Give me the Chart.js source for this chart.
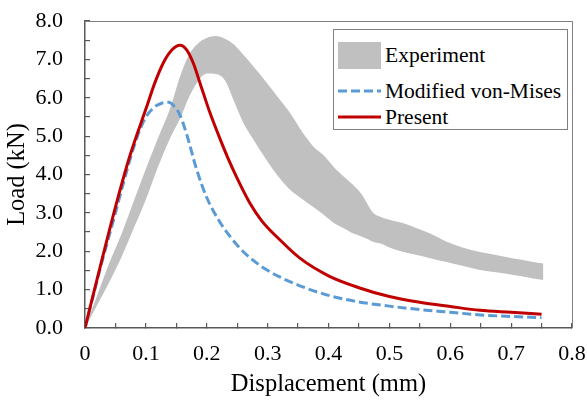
<!DOCTYPE html>
<html lang="en">
<head>
<meta charset="utf-8"/>
<title>Load - displacement</title>
<style>
  body { margin: 0; background: #fff; }
  #wrap { position: relative; width: 587px; height: 402px; }
  #legend { position: absolute; left: 333px; top: 29px; width: 235px; height: 101px; box-sizing: border-box;
            border: 1px solid #7f7f7f; background: #fff; color: #000;
            font-family: "Liberation Serif", "Times New Roman", serif; font-size: 21.5px; }
  #legend .row { position: absolute; left: 3px; height: 26px; line-height: 26px; display: flex; align-items: center; white-space: nowrap; }
  #legend .mark { width: 44px; height: 26px; display: flex; align-items: center; justify-content: center; margin-right: 4px; }
</style>
</head>
<body>
<div id="wrap">
  <canvas id="chart" width="587" height="402"></canvas>
  <div id="legend"></div>
</div>
<script src="https://cdn.jsdelivr.net/npm/chart.js"></script>
<script>
// experiment band (upper / lower edge at the same displacements)
const expX     = [0, 0.02, 0.04, 0.06, 0.08, 0.1, 0.12, 0.14, 0.156, 0.172, 0.189, 0.2, 0.215, 0.23, 0.245, 0.26, 0.275, 0.293, 0.315, 0.337, 0.355, 0.375, 0.392, 0.41, 0.425, 0.441, 0.455, 0.465, 0.474, 0.485, 0.5, 0.523, 0.545, 0.567, 0.594, 0.62, 0.649, 0.675, 0.704, 0.73, 0.753];
const expUpper = [0, 0.85, 1.7, 2.45, 3.3, 4.15, 4.95, 5.73, 6.55, 7.15, 7.46, 7.56, 7.61, 7.54, 7.38, 7.12, 6.85, 6.5, 6.05, 5.6, 5.15, 4.73, 4.5, 4.17, 3.95, 3.72, 3.47, 3.2, 2.99, 2.9, 2.82, 2.73, 2.6, 2.46, 2.25, 2.1, 1.98, 1.9, 1.81, 1.74, 1.68];
const expLower = [0, 0.6, 1.2, 1.85, 2.6, 3.35, 4.2, 4.95, 5.45, 6.05, 6.5, 6.63, 6.62, 6.45, 5.9, 5.35, 4.95, 4.5, 4.0, 3.6, 3.38, 3.15, 2.95, 2.72, 2.6, 2.46, 2.38, 2.31, 2.24, 2.2, 2.1, 1.98, 1.9, 1.82, 1.72, 1.62, 1.51, 1.45, 1.38, 1.31, 1.25];

// modified von-Mises
const misesX = [0, 0.025, 0.05, 0.063, 0.079, 0.096, 0.112, 0.125, 0.137, 0.148, 0.156, 0.167, 0.183, 0.2, 0.222, 0.24, 0.255, 0.271, 0.295, 0.32, 0.353, 0.4, 0.45, 0.5, 0.55, 0.6, 0.65, 0.7, 0.75];
const misesY = [0, 1.55, 3.0, 3.77, 4.66, 5.38, 5.73, 5.85, 5.88, 5.75, 5.55, 5.05, 4.15, 3.4, 2.75, 2.35, 2.07, 1.83, 1.55, 1.33, 1.1, 0.85, 0.68, 0.57, 0.48, 0.41, 0.34, 0.3, 0.27];

// present model
const presentX = [0, 0.025, 0.05, 0.074, 0.101, 0.115, 0.129, 0.143, 0.156, 0.167, 0.178, 0.189, 0.205, 0.22, 0.235, 0.25, 0.27, 0.29, 0.32, 0.353, 0.4, 0.45, 0.5, 0.55, 0.6, 0.649, 0.7, 0.75];
const presentY = [0, 1.6, 3.15, 4.5, 5.75, 6.4, 6.92, 7.25, 7.37, 7.25, 6.9, 6.38, 5.62, 5.0, 4.42, 3.9, 3.28, 2.8, 2.3, 1.82, 1.36, 1.05, 0.82, 0.67, 0.56, 0.46, 0.41, 0.36];

const pts = (xs, ys) => xs.map((x, i) => ({ x: x, y: ys[i] }));

const SERIF = "'Liberation Serif', 'Times New Roman', serif";
const TICK_FONT = { family: SERIF, size: 22 };
const TITLE_FONT = { family: SERIF, size: 24.5 };
const AXIS = '#595959';

// top and right frame of the plot
const frame = {
  id: 'frame',
  afterDraw(chart) {
    const a = chart.chartArea, ctx = chart.ctx;
    ctx.save();
    ctx.strokeStyle = '#7f7f7f';
    ctx.lineWidth = 1;
    ctx.beginPath();
    ctx.moveTo(a.left, a.top + 0.5);
    ctx.lineTo(a.right + 0.5, a.top + 0.5);
    ctx.lineTo(a.right + 0.5, a.bottom);
    ctx.stroke();
    ctx.restore();
  }
};

const chart = new Chart(document.getElementById('chart'), {
  type: 'line',
  data: {
    datasets: [
      { label: 'Present', data: pts(presentX, presentY), borderColor: '#c00000', borderWidth: 3,
        pointRadius: 0, cubicInterpolationMode: 'monotone', fill: false, order: 0 },
      { label: 'Modified von-Mises', data: pts(misesX, misesY), borderColor: '#5b9bd5', borderWidth: 3,
        borderDash: [9, 4], pointRadius: 0, cubicInterpolationMode: 'monotone', fill: false, order: 1 },
      { label: '', data: pts(expX, expLower), borderWidth: 0, borderColor: 'rgba(0,0,0,0)',
        pointRadius: 0, cubicInterpolationMode: 'monotone', fill: false, order: 3 },
      { label: 'Experiment', data: pts(expX, expUpper), borderWidth: 0, borderColor: 'rgba(0,0,0,0)',
        backgroundColor: '#c0c0c0', pointRadius: 0, cubicInterpolationMode: 'monotone', fill: 2, order: 2 }
    ]
  },
  options: {
    responsive: false,
    animation: false,
    layout: { padding: { top: 21, right: 15, left: 0, bottom: 0 } },
    plugins: { legend: { display: false }, tooltip: { enabled: false } },
    scales: {
      x: {
        type: 'linear', min: 0, max: 0.8,
        // fixed axis band, no extra room for the end labels
        afterFit: s => { s.height = 74; s.paddingLeft = 0; s.paddingRight = 0; },
        border: { color: AXIS, width: 1.5 },
        grid: { drawOnChartArea: false, tickLength: -5, color: AXIS, lineWidth: 1.2 },
        ticks: {
          stepSize: 0.05, autoSkip: false, maxRotation: 0, padding: 18, color: '#000', font: TICK_FONT,
          callback: v => {
            const k = Math.round(v * 100);
            if (k % 10 !== 0) return '';
            return k === 0 ? '0' : (k / 100).toFixed(1);
          }
        },
        title: { display: true, text: 'Displacement (mm)', color: '#000', font: TITLE_FONT, padding: { top: 0, bottom: 3 } }
      },
      y: {
        min: 0, max: 8,
        afterFit: s => { s.width = 85; s.paddingTop = 0; s.paddingBottom = 0; },
        border: { color: AXIS, width: 1.5 },
        grid: { drawOnChartArea: false, tickLength: -5, color: AXIS, lineWidth: 1.2 },
        ticks: {
          stepSize: 0.5, autoSkip: false, padding: 27, color: '#000', font: TICK_FONT,
          callback: v => Math.abs(v - Math.round(v)) < 1e-6 ? v.toFixed(1) : ''
        },
        title: { display: true, text: 'Load (kN)', color: '#000', font: TITLE_FONT, padding: { top: 3, bottom: 0 } }
      }
    }
  },
  plugins: [frame]
});

// legend box inside the plot
const legend = document.getElementById('legend');
const rows = [
  { ds: chart.data.datasets[3], top: 12 },
  { ds: chart.data.datasets[1], top: 48 },
  { ds: chart.data.datasets[0], top: 74 }
];
rows.forEach(r => {
  const row = document.createElement('div');
  row.className = 'row';
  row.style.top = r.top + 'px';
  const mark = document.createElement('div');
  mark.className = 'mark';
  if (r.ds.fill) {
    mark.innerHTML = '<div style="width:43px;height:27px;background:' + r.ds.backgroundColor + '"></div>';
  } else {
    const dash = r.ds.borderDash ? r.ds.borderDash.join(' ') : 'none';
    mark.innerHTML = '<svg width="43" height="6"><line x1="0" y1="3" x2="43" y2="3" stroke="' + r.ds.borderColor +
      '" stroke-width="3" stroke-dasharray="' + dash + '"/></svg>';
  }
  const text = document.createElement('span');
  text.textContent = r.ds.label;
  row.appendChild(mark);
  row.appendChild(text);
  legend.appendChild(row);
});
</script>
</body>
</html>
